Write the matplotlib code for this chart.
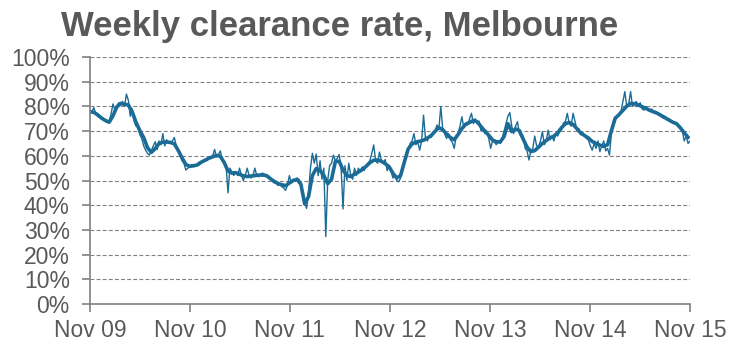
import pandas as pd
import matplotlib.pyplot as plt
import matplotlib.dates as mdates
from matplotlib.ticker import FuncFormatter

# weekly clearance rate (%), one value per week from Nov 2009
weekly = [
    78.5, 78, 79.5, 77, 76, 75.5, 75, 74.5, 74, 73.5, 74, 77, 81, 78.5, 80, 81.5,
    80.5, 82, 80, 85, 82.5, 76, 79, 74, 72, 71.5, 68.5, 67, 64, 62.3, 61, 60.3,
    62, 64, 65.7, 62.5, 66, 64.5, 69, 64, 66.5, 65, 65.5, 66, 67.4, 64, 62, 60,
    58, 57, 54.2, 55, 55.5, 56.5, 55.5, 56, 56.5, 57.5, 57, 58, 58.5, 58, 59.5, 59,
    60, 62.6, 59.5, 60.5, 62, 58, 57, 56, 45, 55, 53.5, 52, 53.5, 52, 55, 52,
    50, 52, 55, 52, 51, 52, 55, 52, 51.5, 52.5, 53, 52.5, 51.5, 52, 51, 50,
    49, 49.5, 48, 48.5, 47.5, 47, 46, 48, 52, 49, 50.5, 50, 51, 50.5, 49, 45,
    41, 38.7, 45, 55, 61, 57, 60.7, 52, 58, 50.5, 55, 27.3, 50, 56, 57, 60.3,
    58, 59, 60.5, 55, 38.5, 56, 50, 57, 52, 50.5, 55, 52, 55, 53.5, 55.5, 54,
    56, 57, 58, 61, 64.4, 58, 57, 61.5, 58, 57, 58.5, 54, 56, 54, 51, 52,
    50, 49.5, 51, 54, 57, 60.5, 62.5, 65, 66, 69, 64.5, 65.5, 62.3, 66, 76.5, 67,
    66, 68, 67.5, 69, 70, 72.5, 71, 79.9, 71, 69, 67, 69, 66.5, 65.5, 63, 68,
    69, 72, 75.8, 71.5, 73, 72.5, 75, 77.2, 73, 75, 73, 74, 70, 71, 69, 70,
    67, 63, 66, 65.5, 64.5, 66, 65, 67, 70, 73, 76, 77.5, 72, 69, 72, 73.8,
    69, 67.8, 68, 63, 62, 58.3, 62, 63, 68, 64, 63.7, 66, 69.8, 64.5, 66, 70.4,
    66.5, 68, 66, 69, 68, 70, 70.5, 73.2, 74, 77.2, 73, 72, 77.2, 74, 70.4, 71,
    68.5, 69.5, 68, 67, 66.4, 64, 62.3, 65, 63, 66, 61.7, 64, 66, 62, 63, 60.3,
    69.1, 74, 75.8, 76, 77, 78, 82, 86, 79.9, 81, 86, 80, 81, 82, 80, 81.5,
    79, 78.5, 80, 79, 78, 79, 77.5, 78, 77.5, 76.5, 76, 75.2, 76, 74.5, 75, 74,
    73.5, 73.2, 72.5, 72, 71, 70, 66, 68, 65, 66,
]

# smoothed rate (%), one value per fortnight from Nov 2009
smoothed = [
    77.8, 77.6, 76.6, 75.3, 74.3, 73.6, 76.2, 79.8, 81.2, 80.9, 80.6, 77.8, 73.6,
    70.2, 67.4, 63.3, 61.4, 62.9, 65, 65.5, 65.6, 65.4, 64.8, 62.2, 59.2, 56.5,
    55.7, 56, 56.3, 57.4, 58.2, 59, 59.6, 60.2, 59.8, 57.3, 53.8, 53, 53.2, 52.5,
    51.9, 51.6, 51.8, 52, 52.2, 52.2, 52, 50.8, 49.7, 48.8, 48.3, 47.9, 49, 50,
    50.4, 48.5, 40.5, 43.5, 52, 54.8, 54.1, 52, 48.7, 50.5, 57.7, 57.8, 54.2, 52,
    51.6, 52.6, 53.4, 54.4, 55.7, 57.2, 58.2, 58.3, 57.8, 56.8, 55.6, 53, 51, 52,
    57.5, 62.8, 64.8, 65.6, 65.9, 66.3, 67.2, 68.2, 69.9, 71.4, 70.6, 68.8, 67.4,
    66.5, 68.6, 71, 72.8, 73.5, 74.3, 73.8, 71.8, 70, 68.3, 66.4, 65.7, 65.6,
    67.8, 73, 69.8, 70.9, 70.2, 66.7, 63.5, 61.7, 62.1, 63.5, 65, 66.2, 67.3, 68,
    69.3, 71.4, 73, 73.5, 72.7, 71, 69.2, 68.2, 67.2, 65.8, 65, 64.3, 63.8, 64.5,
    70.2, 75.2, 76.7, 78.4, 80.1, 81.2, 81.1, 80.6, 79.9, 79.2, 78.4, 77.8, 77.2,
    76.3, 75.4, 74.5, 73.6, 73, 71.3, 69.3, 67.5,
]

tick_years = ['2009', '2010', '2011', '2012', '2013', '2014', '2015']

weekly_dates = pd.date_range('2009-11-07', periods=len(weekly), freq='7D')
smooth_dates = pd.date_range('2009-11-07', periods=len(smoothed), freq='14D')
tick_dates = [pd.Timestamp(y + '-11-07') for y in tick_years]

line_col = '#1b6b97'
grey = '#808080'
text_col = '#595959'
plt.rcParams['font.family'] = ['Liberation Sans', 'DejaVu Sans']

fig = plt.figure(figsize=(7.36, 3.64), dpi=100)
ax = fig.add_axes([90 / 736, 1 - 304 / 364, 600 / 736, 247 / 364])

ax.plot(weekly_dates, weekly, color=line_col, lw=1.0)
ax.plot(smooth_dates, smoothed, color=line_col, lw=2.6)

ax.set_ylim(0, 100)
ax.set_yticks(range(0, 101, 10))
ax.yaxis.set_major_formatter(FuncFormatter(lambda v, p: f'{int(v)}%'))
ax.set_xlim(tick_dates[0], tick_dates[-1])
ax.set_xticks(tick_dates)
ax.xaxis.set_major_formatter(mdates.DateFormatter('%b %y'))

ax.grid(axis='y', color=grey, ls=(0, (3.5, 2)), lw=0.8)
ax.set_axisbelow(True)
for s in ['top', 'right']:
    ax.spines[s].set_visible(False)
for s in ['left', 'bottom']:
    ax.spines[s].set_color(grey)
    ax.spines[s].set_linewidth(1.2)

ax.tick_params(axis='both', colors=grey, labelcolor=text_col, labelsize=16.5, width=1.2)
ax.tick_params(axis='y', length=5.5, pad=9)
ax.tick_params(axis='x', length=6, pad=5)

fig.text(61 / 736, 1 - 36 / 364, 'Weekly clearance rate, Melbourne',
         fontsize=25, fontweight='bold', color=text_col, ha='left', va='baseline')

fig.savefig('out.png', dpi=100)
